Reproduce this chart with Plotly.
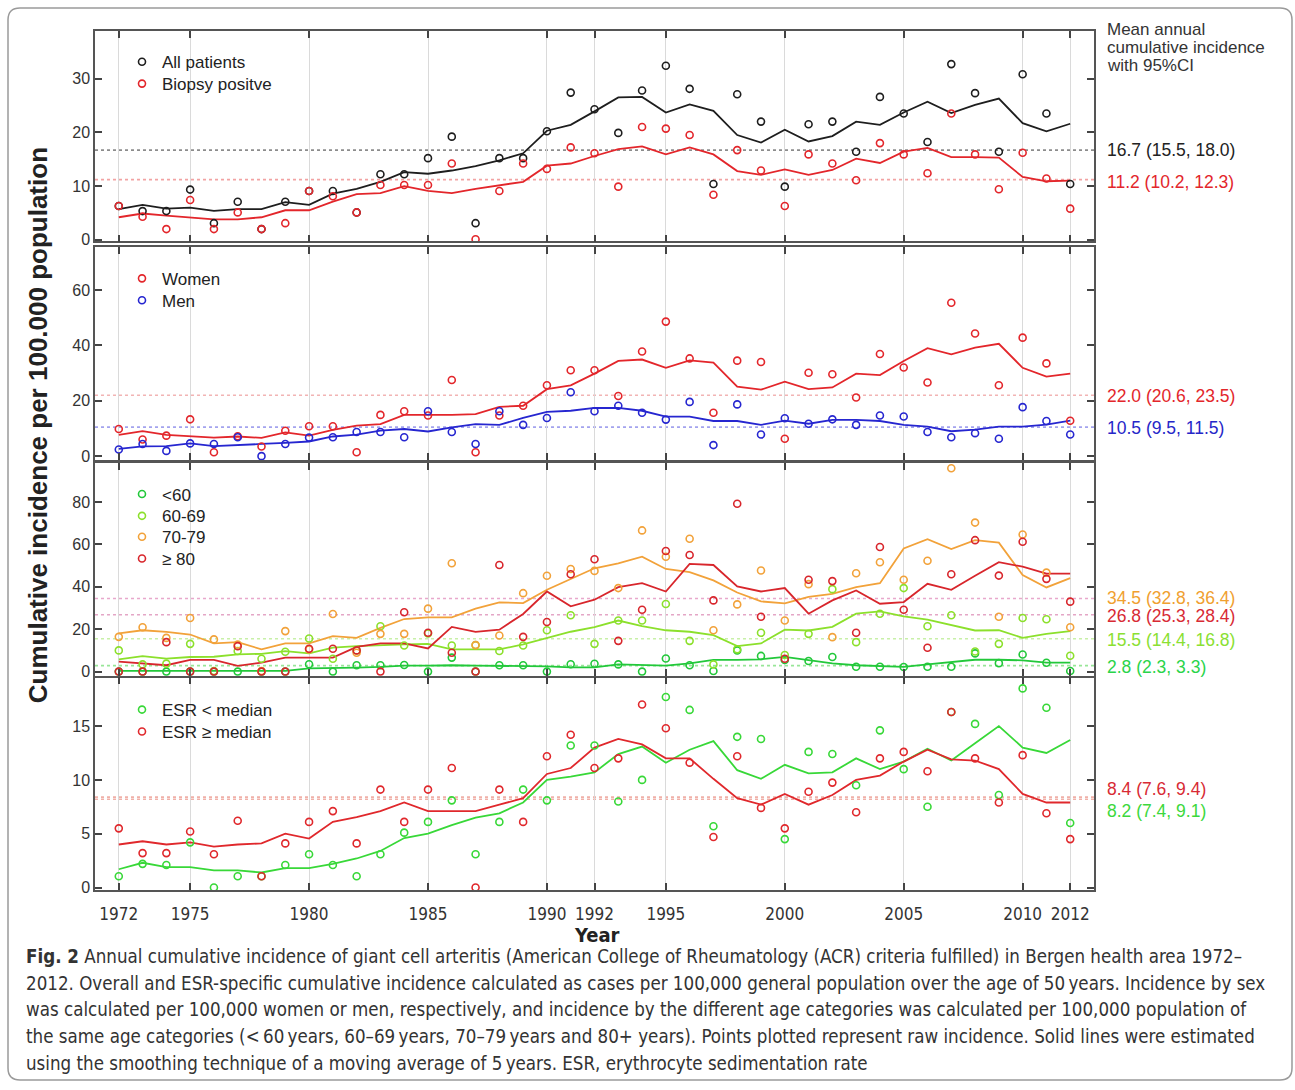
import plotly.graph_objects as go

# ---------------- data ----------------
years = [1972, 1973, 1974, 1975, 1976, 1977, 1978, 1979, 1980, 1981, 1982, 1983, 1984, 1985,
         1986, 1987, 1988, 1989, 1990, 1991, 1992, 1993, 1994, 1995, 1996, 1997, 1998, 1999,
         2000, 2001, 2002, 2003, 2004, 2005, 2006, 2007, 2008, 2009, 2010, 2011, 2012]

xtick_vals = [1972, 1975, 1980, 1985, 1990, 1992, 1995, 2000, 2005, 2010, 2012]
xtick_text = ["1972", "1975", "1980", "1985", "1990", "1992", "1995", "2000", "2005", "2010", "2012"]

# Panel 1: all patients / biopsy positive
all_pts = [6.3, 5.35, 5.35, 9.35, 3.1, 7.1, 2.0, 7.1, 9.1, 9.1, 5.1, 12.2, 12.2, 15.2, 19.2, 3.1,
           15.2, 15.2, 20.2, 27.4, 24.3, 19.9, 27.8, 32.4, 28.1, 10.4, 27.1, 22.0, 9.9, 21.5, 22.0,
           16.4, 26.6, 23.5, 18.2, 32.7, 27.3, 16.4, 30.8, 23.5, 10.4]
all_line = [5.7, 6.5, 5.8, 6.0, 5.4, 5.7, 5.7, 7.0, 6.5, 8.6, 9.5, 10.8, 12.6, 12.3, 12.9, 13.7,
            14.8, 16.1, 20.3, 21.4, 23.9, 26.5, 26.6, 23.7, 25.2, 24.0, 19.5, 18.1, 20.5, 18.3, 19.3,
            22.0, 21.4, 23.7, 25.7, 23.6, 25.1, 26.3, 21.7, 20.2, 21.6]
biopsy_pts = [6.3, 4.3, 2.0, 7.4, 2.0, 5.1, 2.0, 3.1, 9.1, 8.1, 5.1, 10.2, 10.2, 10.2, 14.2, 0.1,
              9.1, 14.2, 13.2, 17.2, 16.1, 9.9, 21.0, 20.7, 19.5, 8.4, 16.7, 12.9, 6.3, 15.9, 14.2,
              11.1, 18.0, 15.9, 12.4, 23.5, 15.9, 9.4, 16.2, 11.4, 5.8]
biopsy_line = [4.2, 4.9, 4.5, 4.2, 3.8, 3.8, 4.2, 5.5, 5.5, 7.1, 8.5, 8.7, 10.0, 9.1, 8.7, 9.5,
               10.2, 10.8, 13.8, 14.2, 15.6, 16.9, 17.4, 15.9, 17.2, 15.9, 12.8, 12.1, 13.1, 12.1,
               13.0, 15.1, 14.3, 16.4, 17.1, 15.4, 15.4, 15.3, 11.7, 10.9, 11.0]

# Panel 2: women / men
women_pts = [9.8, 6.0, 7.4, 13.3, 1.4, 7.2, 3.5, 9.2, 10.8, 10.8, 1.4, 14.9, 16.2, 14.7, 27.5, 1.4,
             14.7, 18.2, 25.6, 31.0, 31.0, 21.7, 37.8, 48.6, 35.3, 15.7, 34.5, 34.0, 6.3, 30.1, 29.6,
             21.2, 36.9, 32.0, 26.6, 55.4, 44.3, 25.6, 42.8, 33.5, 12.8]
women_line = [7.7, 9.0, 7.7, 7.1, 6.7, 7.1, 6.6, 8.6, 7.4, 9.5, 11.0, 11.6, 14.9, 14.9, 14.9, 15.2,
              17.8, 18.2, 24.2, 25.6, 29.8, 34.4, 34.9, 31.9, 34.6, 33.8, 25.1, 24.0, 26.9, 24.2,
              24.8, 29.8, 29.3, 34.4, 39.0, 36.8, 39.2, 40.6, 31.9, 28.7, 29.8]
men_pts = [2.4, 4.4, 1.9, 4.6, 4.4, 6.8, 0.0, 4.4, 6.7, 6.8, 8.7, 8.7, 6.8, 16.2, 8.7, 4.4, 16.2,
           11.3, 13.8, 23.1, 16.2, 18.2, 15.7, 13.2, 19.6, 4.0, 18.7, 7.8, 13.7, 11.7, 13.3, 11.3,
           14.7, 14.3, 8.7, 6.8, 8.3, 6.3, 17.7, 12.7, 7.8]
men_line = [2.6, 3.5, 3.6, 4.6, 3.6, 4.1, 4.4, 4.8, 5.3, 7.1, 7.8, 9.2, 9.8, 8.9, 10.4, 11.6, 11.3,
            13.8, 16.0, 16.4, 17.4, 17.4, 16.4, 14.3, 14.3, 12.7, 12.7, 11.3, 12.8, 11.7, 13.1, 13.1,
            12.7, 11.3, 10.7, 9.0, 9.6, 10.7, 10.7, 11.4, 12.8]

# Panel 3: age groups
u60_pts = [0, 0, 0, 0, 0, 0, 0, 0, 3.5, 0, 3.0, 3.0, 3.1, 0, 6.6, 0, 3.0, 3.0, 0, 3.5, 3.7,
           3.4, 0, 6.2, 3.0, 0.3, 10.0, 7.4, 5.5, 5.0, 6.9, 2.3, 2.3, 2.2, 2.3, 2.3, 8.6, 4.0, 8.1,
           4.2, 0.3]
u60_line = [0.3, 0.3, 0.3, 0.3, 0.3, 0.3, 0.3, 0.3, 1.5, 1.6, 1.9, 2.2, 2.8, 2.8, 3.0, 2.8, 2.8,
            2.5, 2.5, 2.0, 2.0, 3.4, 3.1, 2.8, 3.9, 5.5, 5.5, 5.8, 6.9, 5.5, 3.9, 3.0, 2.5, 2.2,
            3.4, 4.4, 5.6, 5.6, 5.3, 4.2, 4.2]
a6069_pts = [10.0, 3.4, 3.75, 13.1, 0.3, 9.7, 6.1, 9.4, 15.6, 6.1, 10.0, 21.4, 12.3, 18.0, 12.3,
             12.5, 9.7, 12.3, 19.5, 26.6, 13.1, 24.1, 24.1, 31.9, 14.5, 3.4, 10.5, 18.3, 7.8, 17.8,
             38.9, 13.9, 27.3, 39.4, 21.4, 26.6, 9.5, 13.1, 25.3, 24.7, 7.5]
a6069_line = [5.8, 7.3, 6.1, 6.9, 7.0, 8.1, 8.4, 9.7, 8.6, 11.3, 12.0, 12.5, 12.8, 13.1, 10.5, 10.5,
              10.5, 12.8, 15.9, 18.8, 21.0, 24.1, 21.4, 19.5, 18.8, 17.2, 12.0, 13.3, 19.8, 19.4,
              21.1, 27.3, 28.4, 26.1, 24.5, 21.9, 19.4, 19.5, 15.9, 17.8, 19.1]
a7079_pts = [16.4, 20.9, 15.9, 25.3, 15.2, 12.8, 0.3, 19.1, 10.5, 27.2, 8.9, 17.8, 17.8, 29.7, 51.1,
             12.5, 17.0, 37.0, 45.2, 48.4, 47.5, 39.4, 66.6, 54.2, 62.7, 19.5, 31.7, 47.7, 24.1,
             41.25, 16.25, 46.4, 51.6, 43.3, 52.3, 95.9, 70.3, 25.9, 64.7, 46.7, 20.9]
a7079_line = [18.0, 19.5, 18.75, 17.5, 13.3, 13.9, 10.5, 13.3, 13.3, 16.7, 15.9, 20.6, 24.8, 25.6,
              25.6, 29.7, 32.7, 32.3, 38.6, 43.75, 48.75, 51.1, 54.2, 48.4, 46.9, 43.0, 37.3, 33.1,
              32.2, 35.3, 36.7, 39.8, 41.7, 58.1, 62.5, 57.8, 62.0, 60.8, 45.6, 39.7, 44.1]
a80_pts = [0, 0, 13.9, 0, 0, 12.0, 0, 0, 10.8, 10.8, 10.0, 0, 28.0, 18.3, 8.9, 0, 50.3, 16.4, 23.4,
           45.9, 53.0, 14.5, 29.2, 56.9, 55.0, 33.6, 79.2, 25.9, 6.1, 43.3, 42.7, 18.3, 58.75, 29.2,
           11.25, 45.9, 62.0, 45.3, 61.25, 43.75, 33.0]
a80_line = [4.7, 3.75, 3.0, 5.5, 5.5, 2.7, 4.2, 6.6, 6.6, 6.6, 11.7, 13.3, 13.3, 10.9, 21.1, 18.75,
            19.8, 27.2, 37.8, 30.8, 33.9, 39.8, 41.7, 37.8, 50.8, 50.3, 40.2, 37.8, 39.4, 27.3,
            33.6, 38.3, 32.0, 32.8, 41.4, 38.6, 45.2, 51.6, 49.5, 46.25, 46.25]

# Panel 4: ESR
esr_lo_pts = [1.05, 2.2, 2.1, 4.2, 0, 1.05, 1.05, 2.1, 3.1, 2.1, 1.05, 3.1, 5.1, 6.1, 8.1, 3.1, 6.1,
              9.1, 8.1, 13.2, 13.2, 8.0, 10.0, 17.7, 16.5, 5.7, 14.0, 13.8, 4.5, 12.6, 12.4, 9.5,
              14.6, 11.0, 7.5, 16.3, 15.2, 8.6, 18.5, 16.7, 6.0]
esr_lo_line = [1.7, 2.3, 1.9, 1.9, 1.6, 1.6, 1.4, 1.8, 1.8, 2.2, 2.7, 3.4, 4.6, 5.0, 5.8, 6.5, 6.9,
               7.9, 10.0, 10.3, 10.7, 12.4, 13.1, 11.6, 12.8, 13.6, 10.9, 10.1, 11.4, 10.6, 10.7,
               12.0, 11.0, 11.7, 12.9, 11.8, 13.4, 15.0, 13.0, 12.5, 13.7]
esr_hi_pts = [5.5, 3.2, 3.2, 5.2, 3.1, 6.2, 1.05, 4.1, 6.1, 7.1, 4.1, 9.1, 6.1, 9.1, 11.1, 0, 9.1,
              6.1, 12.2, 14.2, 11.1, 12.0, 17.0, 14.8, 11.6, 4.7, 12.2, 7.4, 5.5, 8.9, 9.75, 7.0,
              12.0, 12.6, 10.8, 16.3, 12.0, 7.9, 12.3, 6.9, 4.5]
esr_hi_line = [4.0, 4.3, 4.0, 4.2, 3.8, 4.0, 4.1, 5.0, 4.55, 6.1, 6.55, 7.1, 7.9, 7.1, 7.1, 7.1, 7.7,
               8.3, 10.55, 11.1, 13.0, 13.8, 13.3, 12.0, 12.0, 10.1, 8.3, 7.7, 8.7, 7.7, 8.6, 10.0,
               10.4, 11.7, 12.8, 11.9, 11.8, 11.0, 8.7, 7.9, 7.9]

# Mean annual cumulative incidence with 95% CI
mean_panel = [1, 1, 2, 2, 3, 3, 3, 3, 4, 4]
mean_vals = [16.7, 11.2, 22.0, 10.5, 34.5, 26.8, 15.5, 2.8, 8.4, 8.2]
mean_lo = [15.5, 10.2, 20.6, 9.5, 32.8, 25.3, 14.4, 2.3, 7.6, 7.4]
mean_hi = [18.0, 12.3, 23.5, 11.5, 36.4, 28.4, 16.8, 3.3, 9.4, 9.1]
mean_text_colors = ["#222222", "#e3262b", "#e3262b", "#2626c8", "#f0a030", "#d82a34",
                    "#8ae032", "#2ad44a", "#d82a34", "#3cd83c"]
mean_dot_colors = ["#8c8c8c", "#f2a3a3", "#f2b4b4", "#a3a3ee", "#e8a8cc", "#e4a6c6",
                   "#c8f0a8", "#98e698", "#f0b0a8", "#f0b0a8"]
mean_label_shift = [0, -2, -1, -1, 0, -1, -1, -1, 8, -12]

# ---------------- layout helpers ----------------
W, H = 1295, 1090
X0, X1 = 95, 1094
panel_px = [(31, 243), (249, 463), (466, 680), (682, 896)]
yranges = [[-0.3, 38.9], [-1.4, 75.4], [-1.9, 98.4], [-0.25, 19.5]]
yticks = [[0, 10, 20, 30], [0, 20, 40, 60], [0, 20, 40, 60, 80], [0, 5, 10, 15]]
legend_item_px = [62, 84, 280, 302, 497, 519, 540, 562, 714, 736]

C_BLACK = "#1e1e1e"
C_RED = "#e3262b"
C_BLUE = "#2626d0"
C_U60 = "#22c83a"
C_6069 = "#8ce02c"
C_7079 = "#f2a23a"
C_80 = "#d8262c"
C_ESRLO = "#38d838"
C_ESRHI = "#e0282c"

series = [
    (1, "All patients", all_pts, all_line, C_BLACK),
    (1, "Biopsy positve", biopsy_pts, biopsy_line, C_RED),
    (2, "Women", women_pts, women_line, C_RED),
    (2, "Men", men_pts, men_line, C_BLUE),
    (3, "<60", u60_pts, u60_line, C_U60),
    (3, "60-69", a6069_pts, a6069_line, C_6069),
    (3, "70-79", a7079_pts, a7079_line, C_7079),
    (3, "\u2265 80", a80_pts, a80_line, C_80),
    (4, "ESR < median", esr_lo_pts, esr_lo_line, C_ESRLO),
    (4, "ESR \u2265 median", esr_hi_pts, esr_hi_line, C_ESRHI),
]


def axname(i, kind):
    return kind if i == 1 else f"{kind}{i}"


def legname(i):
    return "legend" if i == 1 else f"legend{i}"


fig = go.Figure()

# smoothed lines
for p, name, pts, line, col in series:
    fig.add_trace(go.Scatter(
        x=years, y=line, mode="lines", line=dict(color=col, width=1.8),
        xaxis=axname(p, "x"), yaxis=axname(p, "y"), showlegend=False, hoverinfo="skip"))

# raw points (each with its own one-item legend so that spacing matches)
for k, (p, name, pts, line, col) in enumerate(series):
    fig.add_trace(go.Scatter(
        x=years, y=pts, mode="markers", name=name,
        marker=dict(symbol="circle-open", size=7, color=col, line=dict(width=1.6, color=col)),
        xaxis=axname(p, "x"), yaxis=axname(p, "y"), legend=legname(k + 1), showlegend=True))

sans = "Liberation Sans, Arial, sans-serif"
narrow = "DejaVu Sans Condensed, Liberation Sans Narrow, sans-serif"

layout = dict(
    width=W, height=H, autosize=False,
    margin=dict(l=0, r=0, t=0, b=0),
    paper_bgcolor="white", plot_bgcolor="white",
    font=dict(family=sans, color="#222222", size=16),
)

for i in range(1, 5):
    top, bot = panel_px[i - 1]
    layout[axname(i, "xaxis")] = dict(
        domain=[X0 / W, X1 / W], range=[1971.0, 2013.0], anchor=axname(i, "y"),
        tickmode="array", tickvals=xtick_vals, ticktext=xtick_text,
        showticklabels=(i == 4), ticks="inside", ticklen=7, tickwidth=1.5, tickcolor="#444444",
        showline=True, linecolor="#555555", linewidth=1.5, mirror="ticks",
        showgrid=True, gridcolor="#dadada", gridwidth=1.2, zeroline=False,
        tickfont=dict(family=narrow, size=17, color="#333333"), ticklabelstandoff=8,
    )
    layout[axname(i, "yaxis")] = dict(
        domain=[1 - bot / H, 1 - top / H], range=yranges[i - 1], anchor=axname(i, "x"),
        tickmode="array", tickvals=yticks[i - 1],
        ticks="inside", ticklen=7, tickwidth=1.5, tickcolor="#444444",
        showline=True, linecolor="#555555", linewidth=1.5, mirror="ticks",
        showgrid=False, zeroline=False,
        tickfont=dict(family=sans, size=16, color="#333333"),
    )

for k in range(len(series)):
    layout[legname(k + 1)] = dict(
        x=122 / W, y=1 - (legend_item_px[k] - 17.5) / H, xanchor="left", yanchor="top",
        bgcolor="rgba(0,0,0,0)", borderwidth=0,
        font=dict(family=sans, size=17, color="#222222"),
    )

fig.update_layout(**layout)

shapes = []
annotations = []

# dotted mean lines and their labels
for k in range(len(mean_vals)):
    p = mean_panel[k]
    shapes.append(dict(
        type="line", xref=axname(p, "x") + " domain", x0=0, x1=1,
        yref=axname(p, "y"), y0=mean_vals[k], y1=mean_vals[k],
        line=dict(color=mean_dot_colors[k], width=1.6, dash="dot"), layer="below"))
    annotations.append(dict(
        xref="paper", x=1105 / W, xanchor="left",
        yref=axname(p, "y"), y=mean_vals[k], yanchor="middle", yshift=mean_label_shift[k],
        text=f"{mean_vals[k]:.1f} ({mean_lo[k]:.1f}, {mean_hi[k]:.1f})",
        showarrow=False, font=dict(family=sans, size=17.5, color=mean_text_colors[k])))

# header of right-hand column
for txt, ypx in [("Mean annual", 30), ("cumulative incidence", 48), ("with 95%CI", 66)]:
    annotations.append(dict(
        xref="paper", yref="paper", x=1105 / W, y=1 - ypx / H, xanchor="left", yanchor="middle",
        text=txt, showarrow=False, font=dict(family=sans, size=17, color="#333333")))

# axis titles
annotations.append(dict(
    xref="paper", yref="paper", x=38 / W, y=1 - 428 / H, xanchor="center", yanchor="middle",
    text="<b>Cumulative incidence per 100.000 population</b>", textangle=-90, showarrow=False,
    font=dict(family=sans, size=26, color="#222222")))
annotations.append(dict(
    xref="paper", yref="paper", x=597 / W, y=1 - 941 / H, xanchor="center", yanchor="middle",
    text="<b>Year</b>", showarrow=False, font=dict(family=narrow, size=20, color="#222222")))

# caption
caption_lines = [
    "<b>Fig. 2</b> Annual cumulative incidence of giant cell arteritis (American College of Rheumatology (ACR) criteria fulfilled) in Bergen health area 1972\u2013",
    "2012. Overall and ESR-specific cumulative incidence calculated as cases per 100,000 general population over the age of 50\u2009years. Incidence by sex",
    "was calculated per 100,000 women or men, respectively, and incidence by the different age categories was calculated per 100,000 population of",
    "the same age categories (<\u200960\u2009years, 60\u201369\u2009years, 70\u201379\u2009years and 80+ years). Points plotted represent raw incidence. Solid lines were estimated",
    "using the smoothing technique of a moving average of 5\u2009years. ESR, erythrocyte sedimentation rate",
]
caption_y = [963, 990, 1016, 1043, 1070]
for txt, ypx in zip(caption_lines, caption_y):
    annotations.append(dict(
        xref="paper", yref="paper", x=24 / W, y=1 - ypx / H, xanchor="left", yanchor="middle",
        text=txt, showarrow=False, font=dict(family=narrow, size=18.6, color="#333333")))

# outer rounded frame
L, T, R, B, rad = 8, 8, 1292, 1087, 12


def P(xp, yp):
    return f"{xp / W:.5f},{1 - yp / H:.5f}"


path = (f"M {P(L + rad, T)} L {P(R - rad, T)} Q {P(R, T)} {P(R, T + rad)} "
        f"L {P(R, B - rad)} Q {P(R, B)} {P(R - rad, B)} L {P(L + rad, B)} "
        f"Q {P(L, B)} {P(L, B - rad)} L {P(L, T + rad)} Q {P(L, T)} {P(L + rad, T)} Z")
shapes.append(dict(type="path", xref="paper", yref="paper", path=path,
                   line=dict(color="#9a9a9a", width=1.5), layer="below"))

fig.update_layout(shapes=shapes, annotations=annotations)

fig.write_html("out.html", config={"displayModeBar": False},
               post_script="document.body.style.margin='0';")
